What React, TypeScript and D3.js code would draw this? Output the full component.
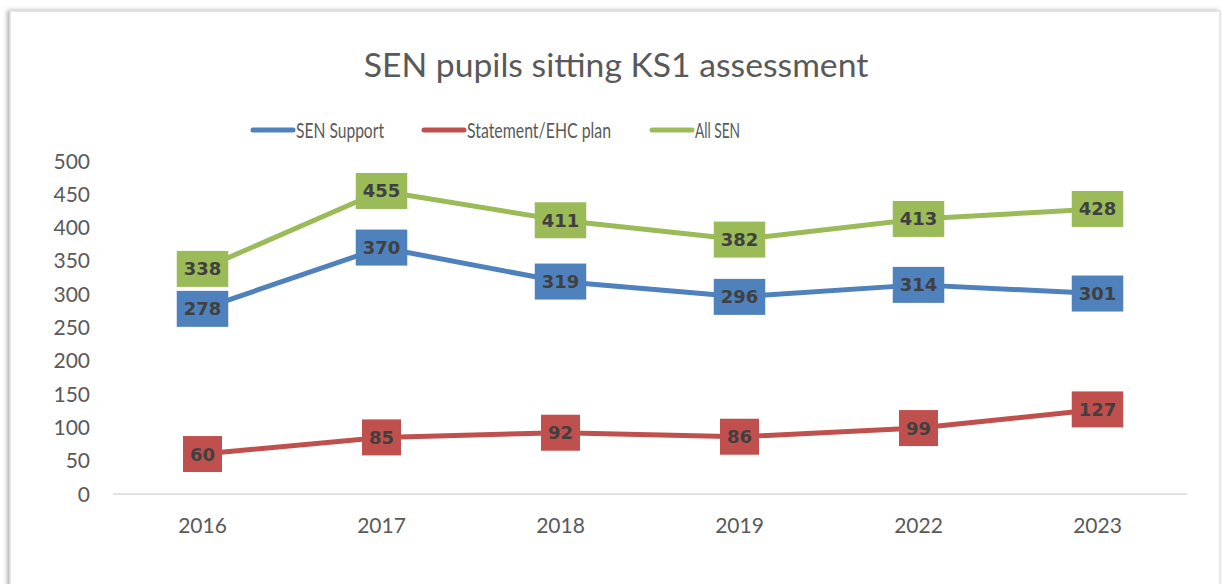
import React from "react";
import * as d3 from "d3";

const title = "SEN pupils sitting KS1 assessment";
const categories = ["2016", "2017", "2018", "2019", "2022", "2023"];
const seriesNames = ["SEN Support", "Statement/EHC plan", "All SEN"];
const senSupport = [278, 370, 319, 296, 314, 301];
const statementEhc = [60, 85, 92, 86, 99, 127];
const allSen = [338, 455, 411, 382, 413, 428];
const yTicks = [0, 50, 100, 150, 200, 250, 300, 350, 400, 450, 500];
const colors = ["#4F81BD", "#C0504D", "#9BBB59"];

const W = 1222;
const H = 584;

export default function App() {
  const x = d3.scaleBand<string>().domain(categories).range([113, 1187]);
  const y = d3.scaleLinear().domain([0, 500]).range([494, 161]);
  const cx = (c: string) => (x(c) as number) + x.bandwidth() / 2;
  const series = [senSupport, statementEhc, allSen];
  const line = d3
    .line<number>()
    .x((_, i) => cx(categories[i]))
    .y((d) => y(d));

  const legendItems = [
    { x: 253, text: seriesNames[0], len: 88 },
    { x: 424, text: seriesNames[1], len: 144 },
    { x: 652, text: seriesNames[2], len: 45 },
  ];

  return (
    <svg
      width={W}
      height={H}
      style={{ position: "absolute", left: 0, top: 0, display: "block", background: "#fff" }}
    >
      <defs>
        <filter id="sh" x="-5%" y="-5%" width="110%" height="110%">
          <feDropShadow dx="-2" dy="0" stdDeviation="2" floodColor="#000" floodOpacity="0.35" />
        </filter>
      </defs>
      <rect x={0} y={0} width={W} height={H} fill="#fff" />
      <rect x={10} y={11} width={1210} height={620} fill="#fff" stroke="#D9D9D9" strokeWidth={1.2} filter="url(#sh)" />
      <text
        x={616}
        y={77}
        textAnchor="middle"
        fontFamily="Lato, sans-serif"
        fontSize={33.7}
        fill="#595959"
      >
        {title}
      </text>
      {legendItems.map((l, i) => (
        <g key={l.text}>
          <line x1={l.x} x2={l.x + 40} y1={130} y2={130} stroke={colors[i]} strokeWidth={5} strokeLinecap="round" />
          <text
            x={l.x + 43}
            y={138}
            fontFamily="Lato, sans-serif"
            fontSize={21}
            fill="#595959"
            textLength={l.len}
            lengthAdjust="spacingAndGlyphs"
          >
            {l.text}
          </text>
        </g>
      ))}
      {yTicks.map((t) => (
        <text
          key={t}
          x={90}
          y={y(t) + 7.5}
          textAnchor="end"
          fontFamily="Lato, sans-serif"
          fontSize={21}
          fill="#595959"
        >
          {t}
        </text>
      ))}
      <line x1={113} x2={1187} y1={494} y2={494} stroke="#D9D9D9" strokeWidth={1.5} />
      {categories.map((c) => (
        <text
          key={c}
          x={cx(c)}
          y={533}
          textAnchor="middle"
          fontFamily="Lato, sans-serif"
          fontSize={21}
          fill="#595959"
        >
          {c}
        </text>
      ))}
      {series.map((s, si) => (
        <path
          key={si}
          d={line(s) as string}
          fill="none"
          stroke={colors[si]}
          strokeWidth={5}
          strokeLinejoin="round"
          strokeLinecap="round"
        />
      ))}
      {series.map((s, si) =>
        s.map((v, i) => {
          const label = String(v);
          const w = label.length * 12.5 + 14;
          const px = cx(categories[i]);
          const py = y(v);
          return (
            <g key={`${si}-${i}`}>
              <rect x={px - w / 2} y={py - 18} width={w} height={36} fill={colors[si]} />
              <text
                x={px}
                y={py + 6.5}
                textAnchor="middle"
                fontFamily="'DejaVu Sans', sans-serif"
                fontWeight="bold"
                fontSize={18}
                fill="#404040"
              >
                {label}
              </text>
            </g>
          );
        })
      )}
    </svg>
  );
}
